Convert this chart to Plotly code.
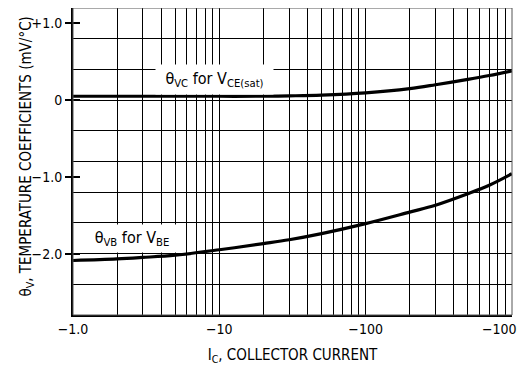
import numpy as np
import plotly.graph_objects as go

# Collector current magnitude (mA), plotted on log axis (labels negative)
ic = [1, 2, 3, 5, 10, 20, 30, 50, 100, 200, 300, 500, 700, 1000]
theta_vc = [0.05, 0.05, 0.05, 0.05, 0.05, 0.05, 0.055, 0.065, 0.095, 0.15, 0.2, 0.27, 0.32, 0.38]
theta_vb = [-2.09, -2.07, -2.05, -2.02, -1.95, -1.87, -1.82, -1.74, -1.61, -1.46, -1.37, -1.22, -1.11, -0.96]

x_tickvals = [1, 10, 100, 1000]
x_ticktext = ["\u22121.0", "\u221210", "\u2212100", ""]
last_x_label = "\u22121000"
x_minor = [m * d for d in [1, 10, 100] for m in range(2, 10)]
y_tickvals = [1.0, 0, -1.0, -2.0]
y_ticktext = ["+1.0", "0", "\u22121.0", "\u22122.0"]
y_grid = [round(-2.8 + 0.4 * i, 1) for i in range(11)]

FONT = "DejaVu Sans Condensed, Liberation Sans, Arial, sans-serif"

fig = go.Figure()
fig.add_trace(go.Scatter(x=ic, y=theta_vc, mode="lines", line=dict(color="black", width=3.2, shape="spline"), showlegend=False))
fig.add_trace(go.Scatter(x=ic, y=theta_vb, mode="lines", line=dict(color="black", width=3.2, shape="spline"), showlegend=False))
# invisible trace on overlay axis to carry inside tick marks
fig.add_trace(go.Scatter(x=ic[:1], y=theta_vb[:1], mode="markers", marker=dict(opacity=0), yaxis="y2",
                         showlegend=False, hoverinfo="skip"))

fig.add_annotation(x=np.log10(9.3), y=0.262, xref="x", yref="y",
                   text="\u03b8<sub>VC</sub> for V<sub>CE(sat)</sub>", showarrow=False,
                   bgcolor="white", width=115, height=27, font=dict(size=16, color="black", family=FONT))
fig.add_annotation(x=np.log10(2.52), y=-1.80, xref="x", yref="y",
                   text="\u03b8<sub>VB</sub> for V<sub>BE</sub>", showarrow=False,
                   bgcolor="white", width=90, height=25, font=dict(size=16, color="black", family=FONT))
# y-axis title
fig.add_annotation(x=0, y=0.5, xref="paper", yref="paper", xshift=-47, yshift=5,
                   text="\u03b8<sub>V</sub>, TEMPERATURE COEFFICIENTS (mV/\u00b0C)", textangle=-90,
                   showarrow=False, xanchor="center", yanchor="middle",
                   font=dict(size=15, color="black", family=FONT))
# last x tick label (shifted left as in the original)
fig.add_annotation(x=np.log10(x_tickvals[-1]), y=0, xref="x", yref="paper", xshift=-8, yshift=-14,
                   text=last_x_label, showarrow=False, xanchor="center", yanchor="middle",
                   font=dict(size=14, color="black", family=FONT))

fig.update_layout(
    width=517, height=357,
    margin=dict(l=65, r=13, t=0, b=50, autoexpand=False),
    paper_bgcolor="white", plot_bgcolor="white",
    font=dict(family=FONT, size=14, color="black"),
    yaxis2=dict(overlaying="y", matches="y", side="left", showline=False, showgrid=False, zeroline=False,
                tickvals=y_tickvals, ticks="inside", ticklen=7, tickwidth=1.5, tickcolor="black",
                showticklabels=False, automargin=False),
)
fig.update_xaxes(
    type="log", range=[0, 3.0005], automargin=False,
    tickvals=x_tickvals, ticktext=x_ticktext, ticklabeloverflow="allow",
    showgrid=True, gridcolor="black", gridwidth=1,
    minor=dict(tickvals=x_minor, showgrid=True, gridcolor="black", gridwidth=1, ticks=""),
    showline=True, linecolor="black", linewidth=2, mirror=False,
    ticks="", tickfont=dict(size=14),
    title=dict(text="I<sub>C</sub>, COLLECTOR CURRENT", font=dict(size=15), standoff=17),
)
fig.update_layout(yaxis=dict(
    range=[-2.8, 1.2], automargin=False,
    tickvals=y_tickvals, ticktext=y_ticktext,
    showgrid=False, zeroline=False,
    minor=dict(tickvals=y_grid, showgrid=True, gridcolor="black", gridwidth=1, ticks=""),
    showline=True, linecolor="black", linewidth=2,
    ticks="outside", ticklen=6, tickcolor="black", tickwidth=1.5, tickfont=dict(size=14),
))
# top and right frame
fig.add_shape(type="rect", xref="paper", yref="paper", x0=0, y0=0, x1=1, y1=1,
              line=dict(color="#555", width=1), layer="above")

fig.write_html("out.html")
